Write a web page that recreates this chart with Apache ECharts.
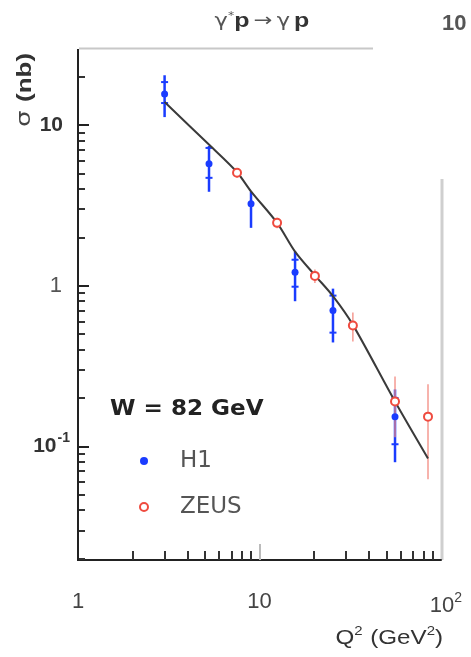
<!DOCTYPE html>
<html>
<head>
<meta charset="utf-8">
<script src="https://cdn.jsdelivr.net/npm/echarts@6/dist/echarts.min.js"></script>
<style>
  html, body { margin: 0; padding: 0; background: #fff; }
  #chart-container { width: 471px; height: 657px; }
</style>
</head>
<body>
<div id="chart-container"></div>
<script>
// H1 points: Q2, sigma, total error band, inner (stat) ticks
var h1Q2      = [3.0, 5.27, 8.98, 15.7, 25.4, 55.8];
var h1Sigma   = [15.6, 5.73, 3.23, 1.21, 0.70, 0.153];
var h1Hi      = [20.4, 7.41, 3.84, 1.63, 0.958, 0.226];
var h1Lo      = [11.2, 3.84, 2.29, 0.80, 0.443, 0.0796];
var h1StatHi  = [18.5, 7.2, null, 1.45, 0.867, 0.20];
var h1StatLo  = [13.7, 4.69, null, 0.985, 0.51, 0.103];

// ZEUS points
var zeusQ2    = [7.52, 12.5, 20.2, 32.7, 55.8, 84.8];
var zeusSigma = [5.04, 2.46, 1.15, 0.565, 0.19, 0.153];
var zeusHi    = [5.4, 2.65, 1.26, 0.68, 0.272, 0.243];
var zeusLo    = [4.7, 2.28, 1.04, 0.449, 0.114, 0.0623];

// theory curve
var curveQ2    = [3.0, 5.3, 7.5, 9.0, 12.5, 15.7, 20.2, 25.4, 32.7, 55.8, 84.8];
var curveSigma = [13.9, 7.5, 5.1, 3.85, 2.46, 1.63, 1.16, 0.86, 0.57, 0.19, 0.084];

// axis ticks
var xTickValues  = [1, 10, 100];
var xTickLabels  = ['{n|1}', '{n|10}', '{p|10}{s|2}'];
var xMinorTicks  = [2, 3, 4, 5, 6, 7, 8, 9, 20, 30, 40, 50, 60, 70, 80, 90];
var yTickValues  = [0.1, 1, 10];
var yTickLabels  = ['{b|10}{s|-1}', '{n|1}', '{bp|10}'];
var yMinorTicks  = [0.02, 0.03, 0.04, 0.05, 0.06, 0.07, 0.08, 0.09,
                    0.2, 0.3, 0.4, 0.5, 0.6, 0.7, 0.8, 0.9,
                    2, 3, 4, 5, 6, 7, 8, 9, 20];

var BLUE = '#1a3cff';
var RED = '#ef4b3f';
var FONT = 'Liberation Sans';

function zip() {
  var cols = arguments;
  return cols[0].map(function (v, i) {
    return Array.prototype.map.call(cols, function (c) { return c[i]; });
  });
}

// vertical error bar with optional small inner ticks
function errorBars(color, width, tickHalf) {
  return function (params, api) {
    var x = api.value(0);
    var top = api.coord([x, api.value(2)]);
    var bot = api.coord([x, api.value(1)]);
    var kids = [{
      type: 'line',
      shape: { x1: top[0], y1: top[1], x2: bot[0], y2: bot[1] },
      style: { stroke: color, lineWidth: width }
    }];
    [3, 4].forEach(function (d) {
      var v = api.value(d);
      if (v && !isNaN(v)) {
        var p = api.coord([x, v]);
        kids.push({
          type: 'line',
          shape: { x1: p[0] - tickHalf, y1: p[1], x2: p[0] + tickHalf, y2: p[1] },
          style: { stroke: color, lineWidth: 2 }
        });
      }
    });
    return { type: 'group', children: kids };
  };
}

var chart = echarts.init(document.getElementById('chart-container'), null, { renderer: 'canvas' });

var xBase = {
  type: 'log', logBase: 10, min: 1, max: 100,
  position: 'bottom', offset: 0,
  splitLine: { show: false }
};
var yBase = {
  type: 'log', logBase: 10, min: 0.0196, max: 29.3,
  position: 'left', offset: 0,
  splitLine: { show: false }
};

var options = {
  animation: false,
  backgroundColor: '#fff',
  grid: { left: 78, right: 30, top: 50, bottom: 97, containLabel: false },
  xAxis: [
    Object.assign({}, xBase, {
      axisLine: { show: true, onZero: false, lineStyle: { color: '#222', width: 2 } },
      axisTick: { show: true, inside: true, length: 16, customValues: [10], lineStyle: { color: '#bbb', width: 2 } },
      axisLabel: {
        show: true, margin: 31, customValues: xTickValues,
        formatter: function (v) {
          var i = xTickValues.findIndex(function (t) { return Math.abs(t - v) / t < 1e-6; });
          return i >= 0 ? xTickLabels[i] : '';
        },
        rich: {
          n: { fontFamily: FONT, fontSize: 22, color: '#444' },
          p: { fontFamily: FONT, fontSize: 22, color: '#444', padding: [0, 0, 0, 10] },
          s: { fontFamily: FONT, fontSize: 14, color: '#444', padding: [0, 0, 16, 0] }
        }
      }
    }),
    Object.assign({}, xBase, {
      axisLine: { show: false, onZero: false },
      axisTick: { show: true, inside: true, length: 9, customValues: xMinorTicks, lineStyle: { color: '#333', width: 2 } },
      axisLabel: { show: false }
    })
  ],
  yAxis: [
    Object.assign({}, yBase, {
      axisLine: { show: true, onZero: false, lineStyle: { color: '#222', width: 2 } },
      axisTick: { show: true, inside: true, length: 11, customValues: yTickValues, lineStyle: { color: '#222', width: 2 } },
      axisLabel: {
        show: true, margin: 8, customValues: yTickValues,
        formatter: function (v) {
          var i = yTickValues.findIndex(function (t) { return Math.abs(t - v) / t < 1e-6; });
          return i >= 0 ? yTickLabels[i] : '';
        },
        rich: {
          b: { fontFamily: FONT, fontWeight: 'bold', fontSize: 21, color: '#333' },
          bp: { fontFamily: FONT, fontWeight: 'bold', fontSize: 21, color: '#333', padding: [0, 7, 0, 0] },
          n: { fontFamily: FONT, fontSize: 22, color: '#555', padding: [0, 8, 0, 0] },
          s: { fontFamily: FONT, fontWeight: 'bold', fontSize: 14, color: '#333', padding: [0, 0, 16, 1] }
        }
      }
    }),
    Object.assign({}, yBase, {
      axisLine: { show: false, onZero: false },
      axisTick: { show: true, inside: true, length: 7, customValues: yMinorTicks, lineStyle: { color: '#333', width: 2 } },
      axisLabel: { show: false }
    })
  ],
  legend: {
    data: ['H1', 'ZEUS'],
    orient: 'vertical',
    left: 134, top: 444,
    itemWidth: 8, itemHeight: 8, itemGap: 22,
    textStyle: { fontFamily: 'DejaVu Sans', fontSize: 23, color: '#555', padding: [0, 0, 0, 27], lineHeight: 24 }
  },
  graphic: [
    // frame pieces: left axis line, partial top and right borders
    { type: 'line', z: 10, shape: { x1: 78, y1: 49, x2: 78, y2: 561 }, style: { stroke: '#222', lineWidth: 2 } },
    { type: 'line', shape: { x1: 79, y1: 48.5, x2: 373, y2: 48.5 }, style: { stroke: '#c8c8c8', lineWidth: 2 } },
    { type: 'line', shape: { x1: 442, y1: 179, x2: 442, y2: 560 }, style: { stroke: '#cfcfcf', lineWidth: 3 } },
    {
      type: 'text', x: 262, y: 21, scaleX: 1.25,
      style: {
        text: '{g|γ}{st|*}{p|p} {g|→} {g|γ} {p|p}',
        align: 'center', verticalAlign: 'middle',
        rich: {
          g: { fontFamily: 'DejaVu Sans', fontSize: 18, fill: '#555' },
          st: { fontFamily: 'DejaVu Sans', fontSize: 10, fill: '#555', padding: [0, 0, 10, 0] },
          p: { fontFamily: FONT, fontWeight: 'bold', fontSize: 20, fill: '#333' }
        }
      }
    },
    { type: 'text', x: 442, y: 24, style: { text: '10', fontFamily: FONT, fontWeight: 'bold', fontSize: 22, fill: '#555', verticalAlign: 'middle' } },
    {
      type: 'text', x: 25, y: 90, rotation: Math.PI / 2, scaleX: 1.3,
      style: {
        text: '{s|σ}  {t|(nb)}',
        align: 'center', verticalAlign: 'middle',
        rich: {
          s: { fontFamily: 'DejaVu Sans', fontSize: 20, fill: '#444' },
          t: { fontFamily: FONT, fontWeight: 'bold', fontSize: 20, fill: '#333' }
        }
      }
    },
    {
      type: 'text', x: 443, y: 638, scaleX: 1.15,
      style: {
        text: '{q|Q}{s|2}  {q|(GeV}{s|2}{q|)}',
        align: 'right', verticalAlign: 'middle',
        rich: {
          q: { fontFamily: FONT, fontSize: 21, fill: '#333' },
          s: { fontFamily: FONT, fontSize: 13, fill: '#333', padding: [0, 0, 14, 0] }
        }
      }
    },
    {
      type: 'text', x: 110, y: 409, scaleX: 1.05,
      style: { text: 'W = 82 GeV', fontFamily: 'DejaVu Sans', fontWeight: 'bold', fontSize: 22, fill: '#222', verticalAlign: 'middle' }
    }
  ],
  series: [
    {
      name: 'H1 err', type: 'custom', xAxisIndex: 0, yAxisIndex: 0,
      renderItem: errorBars(BLUE, 2.5, 3.5),
      encode: { x: 0, y: [1, 2] },
      data: zip(h1Q2, h1Lo, h1Hi, h1StatLo, h1StatHi), z: 2
    },
    {
      name: 'ZEUS err', type: 'custom', xAxisIndex: 0, yAxisIndex: 0,
      renderItem: errorBars('#f38a80', 1.3, 3),
      encode: { x: 0, y: [1, 2] },
      data: zip(zeusQ2, zeusLo, zeusHi), z: 2
    },
    {
      name: 'H1', type: 'scatter', xAxisIndex: 0, yAxisIndex: 0,
      symbol: 'circle', symbolSize: 7,
      itemStyle: { color: BLUE, opacity: 1 },
      data: zip(h1Q2, h1Sigma), z: 3
    },
    {
      name: 'Theory', type: 'line', xAxisIndex: 0, yAxisIndex: 0,
      showSymbol: false, smooth: 0.3,
      lineStyle: { color: '#3a3a3a', width: 2 },
      data: zip(curveQ2, curveSigma), z: 4
    },
    {
      name: 'ZEUS', type: 'scatter', xAxisIndex: 0, yAxisIndex: 0,
      symbol: 'emptyCircle', symbolSize: 8,
      itemStyle: { color: RED, borderColor: RED, borderWidth: 2, opacity: 1 },
      data: zip(zeusQ2, zeusSigma), z: 5
    }
  ]
};

chart.setOption(options);
</script>
</body>
</html>
